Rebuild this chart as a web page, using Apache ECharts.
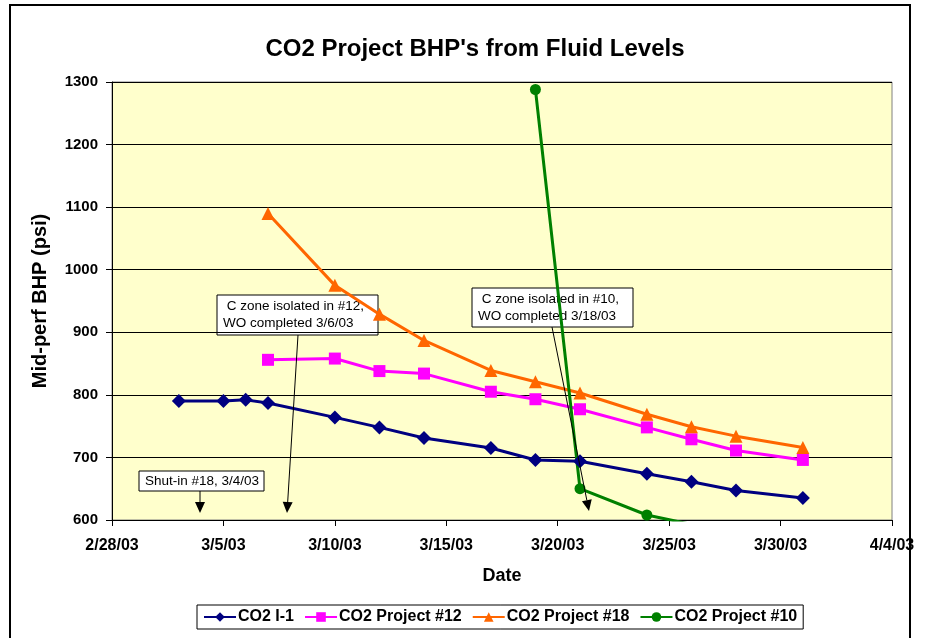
<!DOCTYPE html>
<html>
<head>
<meta charset="utf-8">
<title>CO2 Project BHP's from Fluid Levels</title>
<script src="https://cdn.jsdelivr.net/npm/echarts@6/dist/echarts.min.js"></script>
<style>
  html, body { margin: 0; padding: 0; background: #fff; }
  #frame {
    position: absolute; left: 9px; top: 4px; width: 902px; height: 660px;
    border: 2px solid #000; box-sizing: border-box;
  }
  #chart { position: absolute; left: 0; top: 0; width: 926px; height: 638px; }
</style>
</head>
<body>
<div id="frame"></div>
<div id="chart"></div>
<script>
// data
const datesI1 = ['3/3/03', '3/5/03', '3/6/03', '3/7/03', '3/10/03', '3/12/03', '3/14/03', '3/17/03', '3/19/03', '3/21/03', '3/24/03', '3/26/03', '3/28/03', '3/31/03'];
const bhpI1 = [790, 790, 792, 787, 764, 748, 731, 715, 696, 694, 674, 661, 647, 635];

const dates12 = ['3/7/03', '3/10/03', '3/12/03', '3/14/03', '3/17/03', '3/19/03', '3/21/03', '3/24/03', '3/26/03', '3/28/03', '3/31/03'];
const bhp12 = [856, 858, 838, 834, 805, 793, 777, 748, 729, 711, 696];

const dates18 = ['3/7/03', '3/10/03', '3/12/03', '3/14/03', '3/17/03', '3/19/03', '3/21/03', '3/24/03', '3/26/03', '3/28/03', '3/31/03'];
const bhp18 = [1090, 975, 929, 887, 839, 821, 803, 769, 749, 734, 716];

const dates10 = ['3/19/03', '3/21/03', '3/24/03', '3/28/03'];
const bhp10 = [1288, 650, 608, 578];

const xTickStart = '2/28/03';
const yTicks = [600, 1300, 100];

const DAY = 86400000;
function toDate(s) {
  const p = s.split('/');
  return Date.UTC(2000 + Number(p[2]), Number(p[0]) - 1, Number(p[1]));
}
const base = toDate(xTickStart);
function dayNum(s) { return Math.round((toDate(s) - base) / DAY); }
function pairs(ds, vs) { return ds.map((d, i) => [dayNum(d), vs[i]]); }
function fmtDay(v) {
  const d = new Date(base + v * DAY);
  return (d.getUTCMonth() + 1) + '/' + d.getUTCDate() + '/' + String(d.getUTCFullYear()).slice(2);
}

const font = 'Arial, "Liberation Sans", sans-serif';

let myChart = echarts.init(document.getElementById('chart'));

// arrow helper for annotation pointers
function arrow(x1, y1, x2, y2) {
  const ang = Math.atan2(y2 - y1, x2 - x1);
  const len = 11, half = 5;
  const bx = x2 - len * Math.cos(ang), by = y2 - len * Math.sin(ang);
  const px = -Math.sin(ang) * half, py = Math.cos(ang) * half;
  return [
    { type: 'line', shape: { x1: x1, y1: y1, x2: bx, y2: by }, style: { stroke: '#000', lineWidth: 1 }, z: 100 },
    { type: 'polygon', shape: { points: [[x2, y2], [bx + px, by + py], [bx - px, by - py]] }, style: { fill: '#000' }, z: 100 }
  ];
}
function note(x, y, w, h, text) {
  return {
    type: 'group', x: x, y: y, z: 100,
    children: [
      { type: 'rect', shape: { x: 0, y: 0, width: w, height: h }, style: { fill: '#fff', stroke: '#000', lineWidth: 1 } },
      { type: 'text', x: 6, y: h / 2, style: { text: text, font: '13.5px ' + font, fill: '#000', verticalAlign: 'middle', lineHeight: 17 } }
    ]
  };
}

const lineOf = (color) => ({ color: color, width: 3 });
const labelFont = { fontFamily: font, fontWeight: 'bold', color: '#000' };

myChart.setOption({
  animation: false,
  backgroundColor: 'transparent',
  title: {
    text: "CO2 Project BHP's from Fluid Levels",
    left: 470,
    textAlign: 'center',
    top: 32,
    textStyle: { ...labelFont, fontSize: 24 }
  },
  grid: {
    left: 112, right: 34, top: 82, bottom: 118,
    show: true, backgroundColor: '#FFFFCC', borderColor: '#808080', borderWidth: 1
  },
  xAxis: {
    type: 'value',
    min: 0, max: 35, interval: 5,
    name: 'Date',
    nameLocation: 'middle',
    nameGap: 47,
    nameTextStyle: { ...labelFont, fontSize: 18 },
    axisLine: { show: true, lineStyle: { color: '#000', width: 1 } },
    axisTick: { show: true, length: 6, lineStyle: { color: '#000' } },
    axisLabel: { ...labelFont, formatter: fmtDay, margin: 18, fontSize: 16 },
    splitLine: { show: false }
  },
  yAxis: {
    type: 'value',
    min: yTicks[0], max: yTicks[1], interval: yTicks[2],
    name: 'Mid-perf BHP (psi)',
    nameLocation: 'middle',
    nameGap: 62,
    nameTextStyle: { ...labelFont, fontSize: 20 },
    axisLine: { show: true, lineStyle: { color: '#000', width: 1 } },
    axisTick: { show: true, length: 6, lineStyle: { color: '#000' } },
    axisLabel: { ...labelFont, formatter: (v) => String(v), margin: 14, fontSize: 15 },
    splitLine: { show: true, lineStyle: { color: '#000', width: 1 } }
  },
  legend: {
    left: 197, top: 605,
    padding: [4, 6],
    itemGap: 10,
    itemWidth: 32, itemHeight: 12,
    borderColor: '#000', borderWidth: 1, borderRadius: 0,
    backgroundColor: '#fff',
    textStyle: { ...labelFont, fontSize: 16, padding: [0, 0, 0, -3] },
    data: ['CO2 I-1', 'CO2 Project #12', 'CO2 Project #18', 'CO2 Project #10']
  },
  series: [
    {
      name: 'CO2 I-1', type: 'line',
      data: pairs(datesI1, bhpI1),
      symbol: 'diamond', symbolSize: 14,
      lineStyle: lineOf('#000080'), itemStyle: { color: '#000080' }
    },
    {
      name: 'CO2 Project #12', type: 'line',
      data: pairs(dates12, bhp12),
      symbol: 'rect', symbolSize: 12,
      lineStyle: lineOf('#FF00FF'), itemStyle: { color: '#FF00FF' }
    },
    {
      name: 'CO2 Project #18', type: 'line',
      data: pairs(dates18, bhp18),
      symbol: 'triangle', symbolSize: 13,
      lineStyle: lineOf('#FF6600'), itemStyle: { color: '#FF6600' }
    },
    {
      name: 'CO2 Project #10', type: 'line',
      data: pairs(dates10, bhp10),
      symbol: 'circle', symbolSize: 11,
      clip: true,
      lineStyle: lineOf('#008000'), itemStyle: { color: '#008000' }
    }
  ],
  graphic: [
    note(139, 471, 125, 20, 'Shut-in #18, 3/4/03'),
    ...arrow(200, 491, 200, 513),
    note(217, 295, 161, 40, ' C zone isolated in #12,\nWO completed 3/6/03'),
    ...arrow(298, 335, 287, 513),
    note(472, 288, 161, 39, ' C zone isolated in #10,\nWO completed 3/18/03'),
    ...arrow(552, 327, 589, 511)
  ]
});
</script>
</body>
</html>
